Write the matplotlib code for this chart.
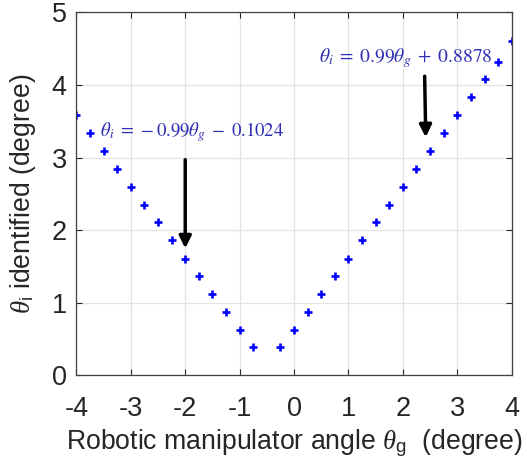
import numpy as np
import matplotlib
matplotlib.use('Agg')
import matplotlib.pyplot as plt

plt.rcParams['font.family'] = ['Liberation Sans', 'DejaVu Sans']
plt.rcParams['mathtext.fontset'] = 'custom'
plt.rcParams['mathtext.rm'] = 'Liberation Sans'
plt.rcParams['mathtext.it'] = 'Liberation Serif:italic'

# data
left_x = [-4.0, -3.75, -3.5, -3.25, -3.0, -2.75, -2.5, -2.25, -2.0, -1.75, -1.5, -1.25, -1.0, -0.75]
left_y = [3.58, 3.34, 3.09, 2.84, 2.60, 2.35, 2.11, 1.86, 1.60, 1.37, 1.12, 0.88, 0.63, 0.39]
right_x = [-0.25, 0.0, 0.25, 0.5, 0.75, 1.0, 1.25, 1.5, 1.75, 2.0, 2.25, 2.5, 2.75, 3.0, 3.25, 3.5, 3.75, 4.0]
right_y = [0.39, 0.63, 0.88, 1.12, 1.37, 1.60, 1.86, 2.11, 2.35, 2.60, 2.84, 3.09, 3.34, 3.58, 3.83, 4.08, 4.32, 4.61]

xticks = [-4, -3, -2, -1, 0, 1, 2, 3, 4]
yticks = [0, 1, 2, 3, 4, 5]

eq_left = r'$\theta_i\;=\,-0.99\theta_g\;-\;0.1024$'
eq_right = r'$\theta_i\;=\;0.99\theta_g\;+\;0.8878$'
text_col = '#2f2fb5'

fig = plt.figure(figsize=(5.27, 4.74), dpi=100)
ax = fig.add_axes([0.145, 0.208, 0.826, 0.766])

ax.plot(left_x + right_x, left_y + right_y, '+', color='blue', ms=5.5, mew=1.9, ls='none')

ax.set_xlim(-4, 4)
ax.set_ylim(0, 5)
ax.set_xticks(xticks)
ax.set_yticks(yticks)
ax.set_xticklabels([str(t) for t in xticks])
ax.tick_params(direction='in', length=4, width=0.8, labelsize=19.5, colors='#262626',
               top=True, right=True)
ax.tick_params(axis='x', pad=15)
ax.tick_params(axis='y', pad=7)
ax.grid(True, color='#e3e3e3', lw=0.9)
ax.set_axisbelow(True)
for s in ax.spines.values():
    s.set_color('#404040')
    s.set_linewidth(0.9)

ax.set_xlabel(r'Robotic manipulator angle $\theta_{\rm g}$  (degree)', fontsize=19.2, color='#262626', labelpad=4)
ax.set_ylabel(r'$\theta_{\rm i}$ identified (degree)', fontsize=19.2, color='#262626', labelpad=10)

ax.annotate('', xy=(-2.0, 1.75), xytext=(-2.0, 2.97),
            arrowprops=dict(arrowstyle='-|>', color='black', lw=2.5, mutation_scale=18, shrinkA=0, shrinkB=0))
ax.annotate('', xy=(2.42, 3.28), xytext=(2.4, 4.12),
            arrowprops=dict(arrowstyle='-|>', color='black', lw=2.5, mutation_scale=18, shrinkA=0, shrinkB=0))

ax.text(-1.87, 3.35, eq_left, fontsize=13.5, color=text_col, ha='center', va='center', math_fontfamily='stix')
ax.text(2.06, 4.37, eq_right, fontsize=14, color=text_col, ha='center', va='center', math_fontfamily='stix')

fig.savefig('out.png', dpi=100)
